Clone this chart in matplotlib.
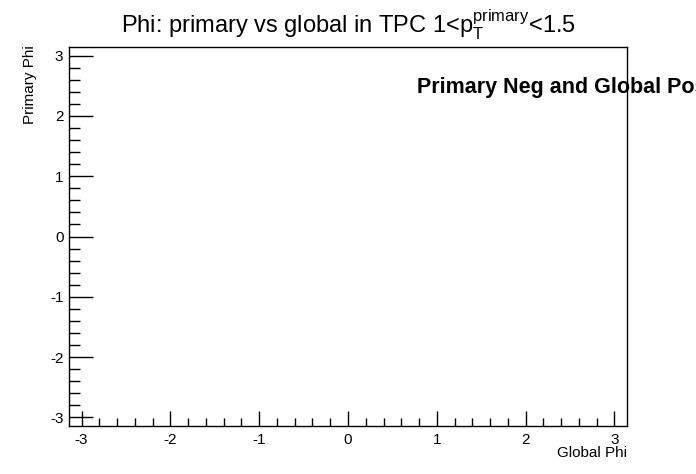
#
# Empty 2D phi-phi histogram, ROOT style
#
import numpy as np
import matplotlib
matplotlib.use("Agg")
import matplotlib.pyplot as plt
from matplotlib.ticker import MultipleLocator

plt.rcParams['font.family'] = ['Liberation Sans', 'DejaVu Sans']
plt.rcParams['mathtext.fontset'] = 'custom'
plt.rcParams['mathtext.rm'] = 'Liberation Sans'
plt.rcParams['axes.unicode_minus'] = False

# histogram content (no entries in this pt bin)
global_phi = []
primary_phi = []

xlim = [-np.pi, np.pi]
ylim = [-np.pi, np.pi]
major_ticks = [-3, -2, -1, 0, 1, 2, 3]

title = r"Phi: primary vs global in TPC 1<p$_{\mathrm{T}}^{\mathrm{primary}}$<1.5"
xlabel = "Global Phi"
ylabel = "Primary Phi"
label = "Primary Neg and Global Pos"

fig = plt.figure(figsize=(6.96, 4.74), dpi=100)
W, H = 696, 474
ax = fig.add_axes([69/W, 1-426/H, (627-69)/W, (426-47)/H])

ax.scatter(global_phi, primary_phi, s=2, c='k')

ax.set_xlim(xlim)
ax.set_ylim(ylim)
ax.set_xticks(major_ticks)
ax.set_yticks(major_ticks)
ax.xaxis.set_minor_locator(MultipleLocator(0.2))
ax.yaxis.set_minor_locator(MultipleLocator(0.2))
ax.tick_params(axis='x', which='major', direction='in', length=11, width=1, labelsize=11, pad=5, top=False)
ax.tick_params(axis='x', which='minor', direction='in', length=6, width=1, top=False)
ax.tick_params(axis='y', which='major', direction='in', length=17, width=1, labelsize=11, pad=4, right=False)
ax.tick_params(axis='y', which='minor', direction='in', length=8, width=1, right=False)
for s in ax.spines.values():
    s.set_linewidth(1)
    s.set_zorder(5)

fig.text(348/W, 1-25/H, title, ha='center', va='center', fontsize=17)
fig.text(627/W, 1-453/H, xlabel, ha='right', va='center', fontsize=11)
fig.text(30/W, 1-45/H, ylabel, ha='center', va='top', rotation=90, fontsize=11)
ax.text(417/W, 1-87/H, label, ha='left', va='center', fontsize=15.5, fontweight='bold',
        transform=fig.transFigure, clip_on=False, zorder=1)

fig.savefig("out.png", dpi=100)
